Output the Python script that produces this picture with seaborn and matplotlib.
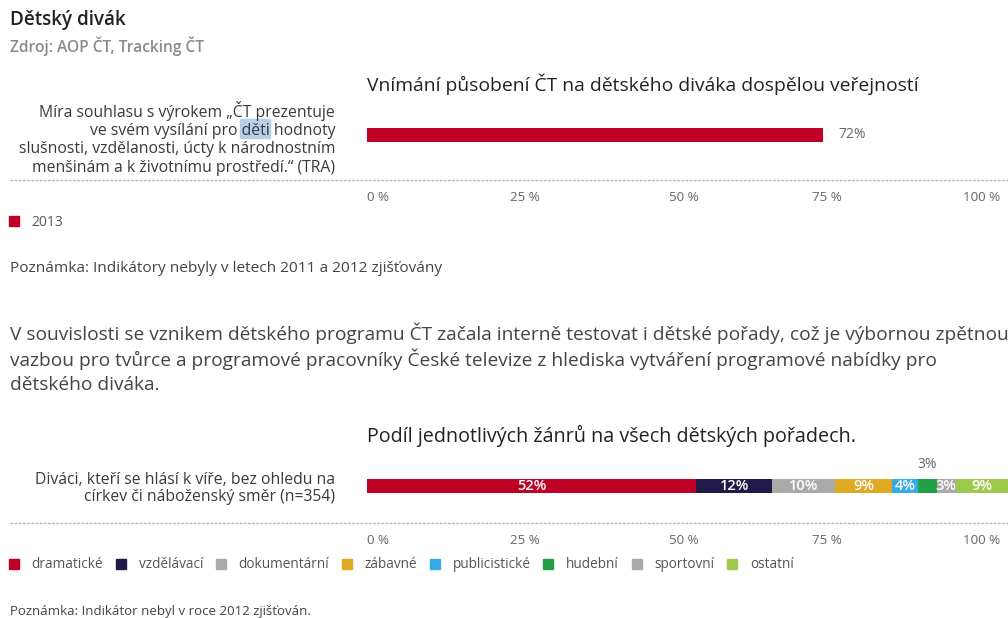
import matplotlib
matplotlib.use("Agg")
import numpy as np
import matplotlib.pyplot as plt
import seaborn as sns
from matplotlib.patches import Patch, Rectangle
from matplotlib.lines import Line2D
from matplotlib.transforms import IdentityTransform

# --- data -------------------------------------------------------------------
perception_category = ["Míra souhlasu s výrokem „ČT prezentuje\n"
                       "ve svém vysílání pro děti hodnoty\n"
                       "slušnosti, vzdělanosti, úcty k národnostním\n"
                       "menšinám a k životnímu prostředí.“ (TRA)"]
perception_year = ["2013"]
perception_values = [72]

genre_category = ["Diváci, kteří se hlásí k víře, bez ohledu na\n"
                  "církev či náboženský směr (n=354)"]
genre_names = ["dramatické", "vzdělávací", "dokumentární", "zábavné",
               "publicistické", "hudební", "sportovní", "ostatní"]
genre_values = [52, 12, 10, 9, 4, 3, 3, 9]

tick_values = [0, 25, 50, 75, 100]
tick_labels = ["0 %", "25 %", "50 %", "75 %", "100 %"]

paragraph = [
    "V souvislosti se vznikem dětského programu ČT začala interně testovat i dětské pořady, což je výbornou zpětnou",
    "vazbou pro tvůrce a programové pracovníky České televize z hlediska vytváření programové nabídky pro",
    "dětského diváka.",
]

# --- style ------------------------------------------------------------------
RED = "#be0027"
GENRE_COLORS = ["#be0027", "#1f1a48", "#aaaaaa", "#e0a922",
                "#36a9e9", "#22a048", "#aaaaaa", "#9dc94b"]
DARK = "#222222"
TEXT = "#3a3a3a"
GREY = "#666666"

sns.set_theme(style="white")
plt.rcParams["font.family"] = ["Open Sans", "DejaVu Sans"]

W, H = 1008, 618
X0 = 367            # pixel where 0 % sits
PX_PER_PCT = 6.33
XMAX = (W - X0) / PX_PER_PCT


def fx(x):
    return x / W


def fy(y):
    return 1 - y / H


def bar_axes(fig, y_top, y_bottom):
    ax = fig.add_axes([fx(X0), fy(y_bottom), (W - X0) / W, (y_bottom - y_top) / H])
    ax.set_facecolor("none")
    return ax


def finish_axes(ax, y_top, y_bottom, y_center, bar_px=14, width=0.5, linespacing=1.2):
    s = bar_px / width
    ax.set_ylim((y_bottom - y_center) / s, -(y_center - y_top) / s)
    ax.set_xlim(0, XMAX)
    sns.despine(ax=ax, left=True, bottom=True)
    ax.set_xlabel("")
    ax.set_ylabel("")
    ax.set_xticks(tick_values, tick_labels)
    for lbl, ha in zip(ax.get_xticklabels(), ["left", "center", "center", "right", "right"]):
        lbl.set_ha(ha)
    ax.tick_params(axis="x", length=0, pad=8, labelsize=9.6, labelcolor=GREY)
    ax.tick_params(axis="y", length=0, pad=23, labelsize=11.3, labelcolor=TEXT)
    for lbl in ax.get_yticklabels():
        lbl.set_multialignment("right")
        lbl.set_linespacing(linespacing)


def dotted(fig, y):
    fig.add_artist(Line2D([fx(10), 1], [fy(y), fy(y)], transform=fig.transFigure,
                          color="#b5b5b5", lw=1, ls=(0, (2, 1))))


fig = plt.figure(figsize=(W / 100, H / 100), dpi=100)
fig.patch.set_facecolor("white")

# --- header -----------------------------------------------------------------
fig.text(fx(10), fy(20), "Dětský divák", fontsize=13.6, fontweight="semibold",
         color=DARK, va="center")
fig.text(fx(10), fy(46), "Zdroj: AOP ČT, Tracking ČT", fontsize=11.2,
         fontweight="semibold", color="#8a8a8a", va="center")

# --- chart 1 ----------------------------------------------------------------
fig.text(fx(X0), fy(84), "Vnímání působení ČT na dětského diváka dospělou veřejností",
         fontsize=13.9, fontweight="medium", color=DARK, va="center")
ax1 = bar_axes(fig, 100, 180)
sns.barplot(x=perception_values, y=perception_category, orient="y", color=RED,
            saturation=1, width=0.5, linewidth=0, ax=ax1)
finish_axes(ax1, 100, 180, 135, linespacing=1.19)
for v in perception_values:
    ax1.text(v + 2.5, 0, f"{v}%", va="center", ha="left", fontsize=10, color=GREY)
dotted(fig, 180)

fig.legend(handles=[Patch(color=RED, label=perception_year[0])],
           loc="center left", bbox_to_anchor=(fx(9), fy(222)), frameon=False,
           fontsize=10, handlelength=0.7, handleheight=0.7, handletextpad=0.9,
           borderpad=0, borderaxespad=0, labelcolor="#555555")

fig.text(fx(10), fy(268), "Poznámka: Indikátory nebyly v letech 2011 a 2012 zjišťovány",
         fontsize=11.1, color="#444444", va="center")

for i, line in enumerate(paragraph):
    fig.text(fx(10), fy(333 + 26 * i), line, fontsize=13.8, color="#444444", va="center")

# --- chart 2 ----------------------------------------------------------------
fig.text(fx(X0), fy(436), "Podíl jednotlivých žánrů na všech dětských pořadech.",
         fontsize=14.2, fontweight="medium", color=DARK, va="center")
ax2 = bar_axes(fig, 450, 523)
cum = np.cumsum(genre_values)
for c, col in reversed(list(zip(cum, GENRE_COLORS))):
    sns.barplot(x=[c], y=genre_category, orient="y", color=col, saturation=1,
                width=0.5, linewidth=0, ax=ax2)
finish_axes(ax2, 450, 523, 486, linespacing=1.06)

for name, v, right in zip(genre_names, genre_values, cum):
    left = right - v
    mid = (left + min(right, XMAX)) / 2
    if name == "hudební":
        ax2.text(mid, -0.75, f"{v}%", ha="center", va="center", fontsize=10, color=GREY)
    else:
        ax2.text(mid, 0, f"{v}%", ha="center", va="center", fontsize=10.5,
                 fontweight="semibold", color="white")
dotted(fig, 523)

fig.legend(handles=[Patch(color=c, label=n) for n, c in zip(genre_names, GENRE_COLORS)],
           loc="center left", bbox_to_anchor=(fx(9), fy(565)), ncol=len(genre_names),
           frameon=False, fontsize=9.8, handlelength=0.72, handleheight=0.72,
           handletextpad=0.95, columnspacing=0.93, borderpad=0, borderaxespad=0,
           labelcolor="#555555")

fig.text(fx(10), fy(612), "Poznámka: Indikátor nebyl v roce 2012 zjišťován.",
         fontsize=9.5, color="#444444", va="center")

# --- selection highlight on "děti" (as in the screenshot) ----------------------
fig.canvas.draw()
renderer = fig.canvas.get_renderer()
lbl = ax1.get_yticklabels()[0]
bb = lbl.get_window_extent(renderer)
lh = bb.height / 4


def text_width(s):
    t = fig.text(0, 0, s, fontproperties=lbl.get_fontproperties())
    w = t.get_window_extent(renderer).width
    t.remove()
    return w


w_all = text_width("děti hodnoty")
w_word = text_width("děti")
x_left = bb.x1 - w_all
yc = bb.y1 - 1.5 * lh
fig.add_artist(Rectangle((x_left - 1, yc - lh / 2), w_word + 2, lh,
                         transform=IdentityTransform(), color="#b7cfe6", zorder=-1))

fig.savefig("out.png", dpi=100)
